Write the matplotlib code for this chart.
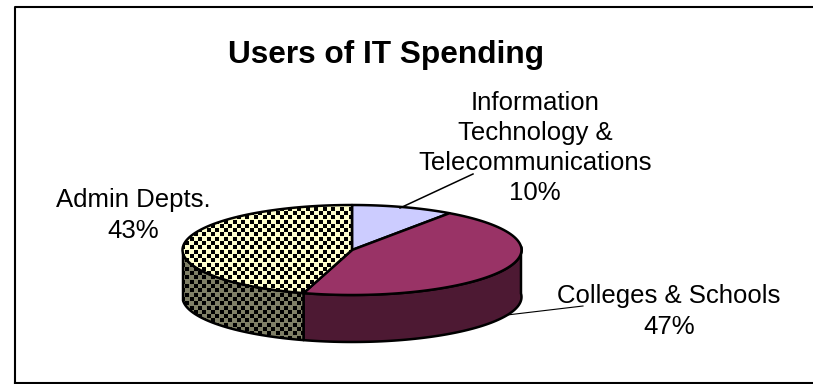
import numpy as np
from matplotlib import pyplot as plt
from matplotlib.patches import Polygon

plt.rcParams['font.family'] = ['Liberation Sans', 'DejaVu Sans']

title = 'Users of IT Spending'
labels = ['Information\nTechnology &\nTelecommunications\n10%',
          'Colleges & Schools\n47%',
          'Admin Depts.\n43%']
shares = [10, 47, 43]
top_colors = ['#CCCCFF', '#993366', '#FFFFCC']
side_colors = ['#66667F', '#4D1933', '#7F7F66']

# pie geometry in pixels, y goes down
W, H = 813, 384
cx, cy = 352, 250
rx, ry = 169.5, 45
depth = 47


def rim(start, stop, n=80):
    # points on the top ellipse, angles clockwise from 12 o'clock
    t = np.radians(np.linspace(start, stop, n))
    # slight view skew so the front of the pie leans to the left
    t = t - np.radians(4.5) * (1 - np.cos(t))
    return np.column_stack([cx + rx * np.sin(t), cy - ry * np.cos(t)])


fig = plt.figure(figsize=(W / 100, H / 100), dpi=100)
ax = fig.add_axes([0, 0, 1, 1])
ax.set_xlim(0, W)
ax.set_ylim(H, 0)
ax.axis('off')

# chart frame
ax.plot([813, 15, 15], [6.5, 6.5, 384], color='black', lw=1.5)
ax.plot([15, 813], [383, 383], color='black', lw=1.5)

edges = np.cumsum([0] + shares) * 3.6

# side walls first, then the tops
for i in range(3):
    a, b = edges[i], edges[i + 1]
    lo, hi = max(a, 90), min(b, 270)
    if lo >= hi:
        continue
    pts = rim(lo, hi)
    wall = np.vstack([pts, pts[::-1] + [0, depth]])
    ax.add_patch(Polygon(wall, closed=True, fc=side_colors[i], ec='black', lw=1.8, zorder=2, joinstyle='round'))

for i in range(3):
    pts = np.vstack([[cx, cy], rim(edges[i], edges[i + 1])])
    ax.add_patch(Polygon(pts, closed=True, fc=top_colors[i], ec='black', lw=1.8, zorder=3, joinstyle='round'))

# dotted fill on the Admin slice, top and wall
gx, gy = np.meshgrid(np.arange(170, 360, 8.6), np.arange(200, 350, 4.3))
gx = gx + (np.arange(gx.shape[0]) % 2)[:, None] * 4.3
a, b = edges[2], edges[3]
top_clip = Polygon(np.vstack([[cx, cy], rim(a, b)]), closed=True, transform=ax.transData)
pts = rim(a, 270)
wall_clip = Polygon(np.vstack([pts, pts[::-1] + [0, depth]]), closed=True, transform=ax.transData)
for clip, z in [(top_clip, 3.5), (wall_clip, 2.5)]:
    dots = ax.scatter(gx.ravel(), gy.ravel(), marker='s', s=7.5, color='black', lw=0, zorder=z)
    dots.set_clip_path(clip)

# leader lines
ax.plot([400, 473], [208, 174], color='black', lw=1.1, zorder=4)
ax.plot([507, 583], [315, 306], color='black', lw=0.8, zorder=1)

ax.text(386, 55, title, fontsize=22.8, fontweight='bold', ha='center', va='center')
ax.text(535, 148, labels[0], fontsize=18.5, ha='center', va='center', linespacing=1.3)
ax.text(669, 311.5, labels[1], fontsize=18.5, ha='center', va='center', linespacing=1.32)
ax.text(133, 215.5, labels[2], fontsize=18.5, ha='center', va='center', linespacing=1.32)

fig.savefig('out.png', dpi=100)
